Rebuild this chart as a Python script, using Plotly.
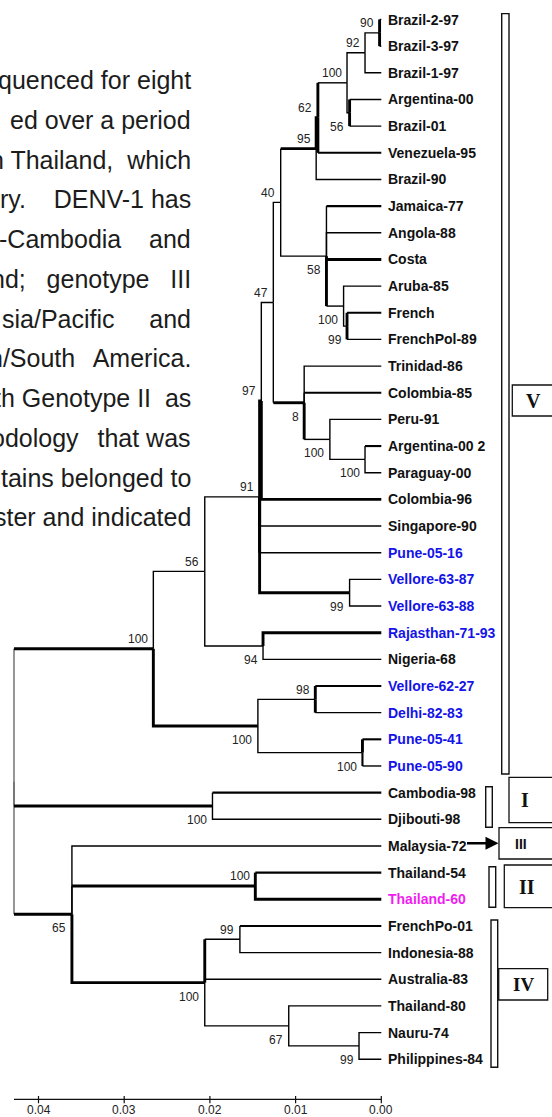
import plotly.graph_objects as go

# ---------------- data ----------------
leaf_names = [
    "Brazil-2-97", "Brazil-3-97", "Brazil-1-97", "Argentina-00", "Brazil-01",
    "Venezuela-95", "Brazil-90", "Jamaica-77", "Angola-88", "Costa",
    "Aruba-85", "French", "FrenchPol-89", "Trinidad-86", "Colombia-85",
    "Peru-91", "Argentina-00 2", "Paraguay-00", "Colombia-96", "Singapore-90",
    "Pune-05-16", "Vellore-63-87", "Vellore-63-88", "Rajasthan-71-93", "Nigeria-68",
    "Vellore-62-27", "Delhi-82-83", "Pune-05-41", "Pune-05-90", "Cambodia-98",
    "Djibouti-98", "Malaysia-72", "Thailand-54", "Thailand-60", "FrenchPo-01",
    "Indonesia-88", "Australia-83", "Thailand-80", "Nauru-74", "Philippines-84",
]
indian_isolates = ["Pune-05-16", "Vellore-63-87", "Vellore-63-88", "Rajasthan-71-93",
                   "Vellore-62-27", "Delhi-82-83", "Pune-05-41", "Pune-05-90"]
study_isolate = ["Thailand-60"]

# internal nodes: id, distance from tips, bootstrap support, children
node_ids = ["root", "nA", "n56", "n91", "n97", "n47", "n40", "n95", "n62", "n100a",
            "n92", "n90", "n56a", "n58", "n100b", "n99a", "n8", "n100c", "n100d",
            "n99b", "n94", "n100f", "n98", "n100e", "n100h", "n65", "n100i",
            "n100j", "n99c", "n67", "n99d"]
node_heights = [0.04286, 0.0266, 0.0206, 0.0142, 0.0140, 0.0126, 0.01174, 0.0076, 0.0074, 0.0040,
                0.0019, 0.0002, 0.0037, 0.0064, 0.0044, 0.0040, 0.0090, 0.0060, 0.0019,
                0.0037, 0.0138, 0.0144, 0.0077, 0.0022, 0.0197, 0.0361, 0.0147,
                0.0206, 0.0165, 0.0108, 0.0026]
node_support = [None, 100, 56, 91, 97, 47, 40, 95, 62, 100,
                92, 90, 56, 58, 100, 99, 8, 100, 100,
                99, 94, 100, 98, 100, 100, 65, 100,
                100, 99, 67, 99]
node_children = [
    ["nA", "n100h", "n65"],
    ["n56", "n100f"],
    ["n91", "n94"],
    ["n97", "Singapore-90", "Pune-05-16", "n99b"],
    ["n47", "Colombia-96"],
    ["n40", "n8"],
    ["n95", "n58"],
    ["n62", "Brazil-90"],
    ["n100a", "Venezuela-95"],
    ["n92", "n56a"],
    ["n90", "Brazil-1-97"],
    ["Brazil-2-97", "Brazil-3-97"],
    ["Argentina-00", "Brazil-01"],
    ["Jamaica-77", "Angola-88", "Costa", "n100b"],
    ["Aruba-85", "n99a"],
    ["French", "FrenchPol-89"],
    ["Trinidad-86", "Colombia-85", "n100c"],
    ["Peru-91", "n100d"],
    ["Argentina-00 2", "Paraguay-00"],
    ["Vellore-63-87", "Vellore-63-88"],
    ["Rajasthan-71-93", "Nigeria-68"],
    ["n98", "n100e"],
    ["Vellore-62-27", "Delhi-82-83"],
    ["Pune-05-41", "Pune-05-90"],
    ["Cambodia-98", "Djibouti-98"],
    ["Malaysia-72", "n100i", "n100j"],
    ["Thailand-54", "Thailand-60"],
    ["n99c", "Australia-83", "n67"],
    ["FrenchPo-01", "Indonesia-88"],
    ["Thailand-80", "n99d"],
    ["Nauru-74", "Philippines-84"],
]

# genotype clusters: label, first leaf, last leaf
genotypes = [("V", "Brazil-2-97", "Pune-05-90"),
             ("I", "Cambodia-98", "Djibouti-98"),
             ("II", "Thailand-54", "Thailand-60"),
             ("IV", "FrenchPo-01", "Philippines-84")]

scale_ticks = [0.04, 0.03, 0.02, 0.01, 0.00]

NB = "\u00a0"
TH = "\u2009"
paragraph = [
    "quenced for eight",
    "ed over a period",
    "n Thailand," + NB + " which",
    "ry." + NB * 3 + " DENV-1 has",
    "-Cambodia" + NB * 3 + " and",
    "nd;" + NB * 2 + " genotype" + NB * 2 + " III",
    "sia/Pacific" + NB * 4 + " and",
    "n/South" + NB + TH + " America.",
    "th Genotype II" + NB + " as",
    "odology" + NB + TH + " that was",
    "tains belonged to",
    "ster and indicated",
]

# ---------------- styling ----------------
W, H = 552, 1117
PX_PER_UNIT = 8570.0         # horizontal pixels per unit of distance
TIP_PX = 381.3               # pixel column of the tips
ROW0, ROW = 19.5, 26.66      # first row centre and row pitch in pixels

THIN, MED, THICK = 1.4, 2.1, 2.9
# (vertical width, horizontal width) of the elbow leading to each node
branch_style = {
    "nA": (THIN, THICK), "n100h": (THIN, THICK), "n65": (THIN, THICK),
    "n100f": (THICK, THICK), "Rajasthan-71-93": (THICK, THICK),
    "n97": (THICK, THICK), "Colombia-96": (THICK, THICK),
    "Singapore-90": (THICK, THIN), "Pune-05-16": (THICK, THIN), "n99b": (THICK, THICK),
    "n8": (THIN, THICK), "n95": (THIN, THICK), "n62": (THICK, THICK),
    "n100a": (THICK, THIN), "Venezuela-95": (THICK, MED),
    "Brazil-2-97": (THICK, THIN), "Brazil-3-97": (THICK, THIN),
    "Argentina-00": (THICK, THIN), "Brazil-01": (THICK, THIN),
    "Jamaica-77": (THIN, MED), "Costa": (THIN, THICK), "n100b": (THICK, THIN),
    "French": (THICK, MED), "FrenchPol-89": (THICK, THIN),
    "Colombia-85": (THIN, MED), "n100c": (THICK, THIN), "Argentina-00 2": (THIN, MED),
    "Vellore-62-27": (THICK, MED), "Delhi-82-83": (THICK, THIN),
    "Pune-05-41": (THICK, MED), "Pune-05-90": (MED, THIN),
    "Cambodia-98": (THIN, MED), "n100i": (THIN, THICK), "n100j": (THICK, THICK),
    "Thailand-54": (THICK, MED), "Thailand-60": (THICK, THICK),
    "n99c": (THICK, THIN), "FrenchPo-01": (THIN, MED),
}
support_above = {"n90", "n92", "n100a", "n62", "n95", "n40", "n47", "n97", "n91",
                 "n56", "nA", "n98", "n100i", "n99c"}

# ---------------- tree layout ----------------
height = dict(zip(node_ids, node_heights))
children = dict(zip(node_ids, node_children))
support = dict(zip(node_ids, node_support))
for name in leaf_names:
    height[name] = 0.0

ypos = {name: float(i) for i, name in enumerate(leaf_names)}


def place(n):
    if n in ypos:
        return ypos[n]
    ys = [place(c) for c in children[n]]
    ypos[n] = (ys[0] + ys[-1]) / 2.0
    return ypos[n]


place("root")

segments = {}


def add(key, xs, ys):
    seg = segments.setdefault(key, ([], []))
    seg[0].extend(xs + [None])
    seg[1].extend(ys + [None])


for parent, kids in children.items():
    px, py = height[parent], ypos[parent]
    vcol = "#6a6a6a" if parent == "root" else "#000000"
    for c in kids:
        cx, cy = height[c], ypos[c]
        vw, hw = branch_style.get(c, (THIN, THIN))
        if vw == hw and vcol == "#000000":
            add((vw, vcol), [px, px, cx], [py, cy, cy])
        else:
            add((vw, vcol), [px, px], [py, cy])
            add((hw, "#000000"), [px, cx], [cy, cy])

fig = go.Figure()
for (w, col), (xs, ys) in segments.items():
    fig.add_trace(go.Scatter(x=xs, y=ys, mode="lines", hoverinfo="skip",
                             line=dict(color=col, width=w), showlegend=False))

annotations = []
shapes = []
LABEL_FONT = "Liberation Sans, Arial, sans-serif"
SERIF = "Liberation Serif, Times New Roman, serif"

# leaf labels
for name in leaf_names:
    col = "#1414e8" if name in indian_isolates else ("#f01cf0" if name in study_isolate else "#111111")
    annotations.append(dict(x=0, y=ypos[name], xref="x", yref="y", text=name,
                            showarrow=False, xanchor="left", yanchor="middle", xshift=5,
                            font=dict(family=LABEL_FONT, size=14, color=col, weight="bold")))

# bootstrap values
for n in node_ids:
    s = support[n]
    if s is None:
        continue
    above = n in support_above
    annotations.append(dict(x=height[n], y=ypos[n], xref="x", yref="y", text=str(s),
                            showarrow=False, xanchor="right", yanchor="middle",
                            xshift=-3.5, yshift=9.5 if above else -14,
                            font=dict(family=LABEL_FONT, size=12, color="#222222")))

# distance scale under the tree, spanning root to tips
scale_y = 1 - 1099.3 / H
shapes.append(dict(type="line", xref="x", yref="paper", x0=height["root"], x1=0.0,
                   y0=scale_y, y1=scale_y, line=dict(color="#111111", width=1.2)))
for v in scale_ticks:
    shapes.append(dict(type="line", xref="x", yref="paper", x0=v, x1=v,
                       y0=1 - 1103.3 / H, y1=1 - 1096.0 / H,
                       line=dict(color="#111111", width=1.2)))
    annotations.append(dict(x=v, y=1 - 1110.0 / H, xref="x", yref="paper", text=f"{v:.2f}",
                            showarrow=False, xanchor="center", yanchor="middle",
                            borderpad=0,
                            font=dict(family=LABEL_FONT, size=12, color="#222222")))

# left-hand body text
for k, line in enumerate(paragraph):
    yc = 80 + k * 39.75
    annotations.append(dict(x=192.5 / W, y=1 - yc / H, xref="paper", yref="paper",
                            text=line, showarrow=False, xanchor="right", yanchor="middle",
                            font=dict(family=LABEL_FONT, size=25, color="#1c1c1c")))

# cluster bars beside the labels
bar_x = {"V": (501.7, 509.0), "I": (485.7, 492.3), "II": (489.0, 495.7), "IV": (491.0, 497.7)}
for lab, first, last in genotypes:
    x0, x1 = bar_x[lab]
    shapes.append(dict(type="rect", xref="paper", yref="y",
                       x0=x0 / W, x1=x1 / W, y0=ypos[first] - 0.22, y1=ypos[last] + 0.3,
                       line=dict(color="#111111", width=1.4), fillcolor="white"))

# genotype boxes (x0, x1, y0, y1 in pixels), label, font
boxes = [
    ((512.3, 570, 385.0, 416.0), "V", SERIF, 20, (533, 401)),
    ((509.0, 570, 777.3, 822.7), "I", SERIF, 20, (525, 800)),
    ((499.0, 570, 827.7, 859.0), "III", LABEL_FONT, 14, (520.5, 843.5)),
    ((504.3, 570, 865.0, 907.7), "II", SERIF, 20, (526.5, 886.5)),
    ((498.7, 547.7, 968.7, 1000.0), "IV", SERIF, 19, (523, 984.5)),
]
for (x0, x1, y0, y1), lab, fam, size, (tx, ty) in boxes:
    shapes.append(dict(type="rect", xref="paper", yref="paper",
                       x0=x0 / W, x1=x1 / W, y0=1 - y1 / H, y1=1 - y0 / H,
                       line=dict(color="#111111", width=1.3), fillcolor="white"))
    annotations.append(dict(x=tx / W, y=1 - ty / H, xref="paper", yref="paper", text=lab,
                            showarrow=False, xanchor="center", yanchor="middle",
                            font=dict(family=fam, size=size, color="#111111", weight="bold")))

# arrow from Malaysia-72 to genotype III
annotations.append(dict(x=498.5 / W, y=1 - 843.3 / H, xref="paper", yref="paper", text="",
                        showarrow=True, ax=-33, ay=0, arrowhead=2, arrowsize=1.0,
                        arrowwidth=2.6, arrowcolor="#000000"))

x_left = TIP_PX / PX_PER_UNIT
x_right = -(W - TIP_PX) / PX_PER_UNIT
y_top = -ROW0 / ROW
y_bot = (H - ROW0) / ROW

fig.update_layout(
    width=W, height=H, margin=dict(l=0, r=0, t=0, b=0),
    paper_bgcolor="white", plot_bgcolor="white",
    xaxis=dict(range=[x_left, x_right], visible=False, domain=[0, 1], fixedrange=True),
    yaxis=dict(range=[y_bot, y_top], visible=False, domain=[0, 1], fixedrange=True),
    annotations=annotations, shapes=shapes, showlegend=False,
)

fig.write_html("out.html")
